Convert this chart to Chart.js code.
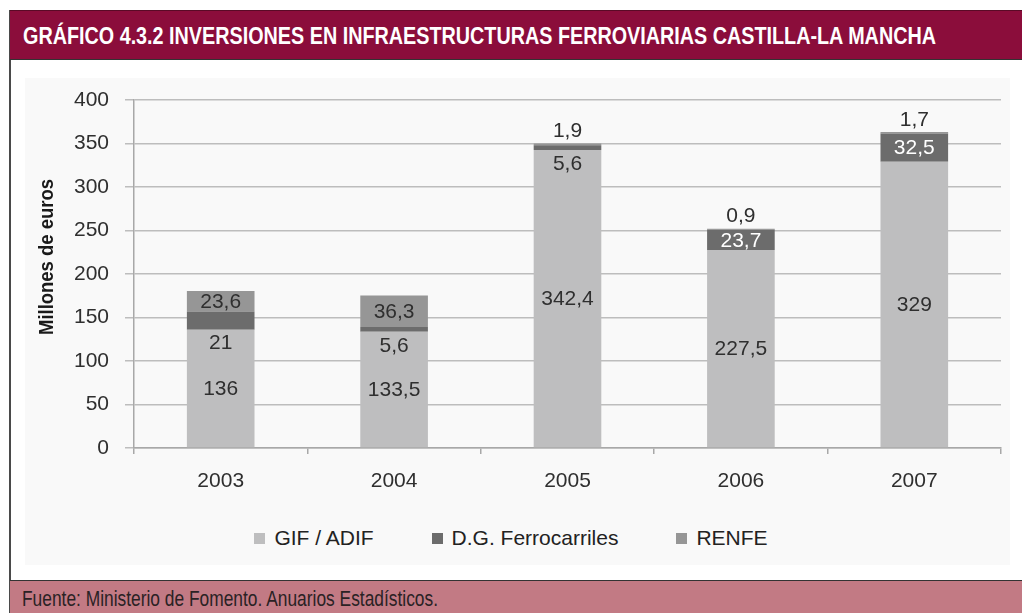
<!DOCTYPE html>
<html lang="es">
<head>
<meta charset="utf-8">
<title>Inversiones en infraestructuras ferroviarias Castilla-La Mancha</title>
<script src="https://cdn.jsdelivr.net/npm/chart.js@4.4.1/dist/chart.umd.min.js"></script>
<style>
  html, body { margin: 0; padding: 0; background: #fff; }
  #page { position: relative; width: 1022px; height: 613px; overflow: hidden; background: #fff; }
  #frame { position: absolute; left: 9px; top: 10px; width: 1020px; height: 610px; border-left: 2px solid #4a4a4a; }
  #title { position: absolute; left: 10px; top: 10px; width: 1020px; height: 50px; background: #8b0d3b;
           border-top: 1px solid #5a0a26; border-bottom: 1px solid #333; color: #fff; font-weight: bold;
           font-family: "Liberation Sans", Arial, sans-serif; font-size: 23px; line-height: 50px;
           padding-left: 13px; box-sizing: border-box; white-space: nowrap; }
  #panel { position: absolute; left: 25px; top: 78px; width: 985px; height: 487px; background: #f9f9f9; }
  #wrap { position: absolute; left: 0; top: 61px; width: 1022px; height: 449px; }
  #legend { position: absolute; left: 0; top: 525px; width: 1022px; height: 26px; display: flex;
            justify-content: center; font-family: "Liberation Sans", Arial, sans-serif; font-size: 21px;
            line-height: 26px; color: #222; }
  #legend .item { display: flex; align-items: center; margin: 0 29px; }
  #legend .box { width: 11px; height: 11px; margin-right: 9px; }
  #footer { position: absolute; left: 10px; top: 580px; width: 1020px; height: 33px; background: #c27a84;
            border-top: 1px solid #333; color: #2a2224; font-family: "Liberation Sans", Arial, sans-serif;
            font-size: 22px; line-height: 36px; padding-left: 12px; box-sizing: border-box; white-space: nowrap; }
  .fit { display: inline-block; transform-origin: 0 50%; }
</style>
</head>
<body>
<div id="page">
  <div id="panel"></div>
  <div id="frame"></div>
  <div id="title"><span class="fit" data-width="913">GRÁFICO 4.3.2 INVERSIONES EN INFRAESTRUCTURAS FERROVIARIAS CASTILLA-LA MANCHA</span></div>
  <div id="wrap"><canvas id="chart"></canvas></div>
  <div id="legend"></div>
  <div id="footer"><span class="fit" data-width="416">Fuente: Ministerio de Fomento. Anuarios Estadísticos.</span></div>
</div>
<script>
// Millones de euros por año
const years = ['2003', '2004', '2005', '2006', '2007'];
const gifAdif = [136, 133.5, 342.4, 227.5, 329];
const dgFerrocarriles = [21, 5.6, 5.6, 23.7, 32.5];
const renfe = [23.6, 36.3, 1.9, 0.9, 1.7];
const seriesNames = ['GIF / ADIF', 'D.G. Ferrocarriles', 'RENFE'];

const Y_MAX = 400;
const Y_STEP = 50;

const TEXT = '#2f2f2f';
const SANS = '"Liberation Sans", Arial, sans-serif';
const NUM_FONT = '21px ' + SANS;

const fmt = v => String(v).replace('.', ',');

// the headings use a condensed face; squeeze the regular one to the same width
document.querySelectorAll('.fit').forEach(el => {
  const w = el.getBoundingClientRect().width;
  el.style.transform = 'scaleX(' + (Number(el.dataset.width) / w) + ')';
});

// value labels: centred in the segment, or pushed outside when it is too thin
const segmentLabels = {
  id: 'segmentLabels',
  afterDatasetsDraw(chart) {
    const ctx = chart.ctx;
    const last = chart.data.datasets.length - 1;
    ctx.save();
    ctx.font = NUM_FONT;
    ctx.textAlign = 'center';
    ctx.textBaseline = 'middle';
    chart.data.datasets.forEach((ds, di) => {
      chart.getDatasetMeta(di).data.forEach((bar, i) => {
        const h = bar.base - bar.y;
        let y = (bar.y + bar.base) / 2;
        let color = ds.labelColor;
        if (h < 19.5) {
          y = di === last ? bar.y - 13 : bar.base + 13;
          color = TEXT;
        }
        ctx.fillStyle = color;
        ctx.fillText(fmt(ds.data[i]), bar.x, y + 1);
      });
    });
    ctx.restore();
  }
};

// rotated axis title, condensed to the narrow look
const yTitle = {
  id: 'yTitle',
  afterDraw(chart) {
    const ctx = chart.ctx;
    const text = 'Millones de euros';
    ctx.save();
    ctx.font = 'bold 21px ' + SANS;
    const k = 156 / ctx.measureText(text).width;
    ctx.translate(47, 196);
    ctx.rotate(-Math.PI / 2);
    ctx.scale(k, 1);
    ctx.fillStyle = '#1a1a1a';
    ctx.textAlign = 'center';
    ctx.textBaseline = 'middle';
    ctx.fillText(text, 0, 0);
    ctx.restore();
  }
};

const chart = new Chart(document.getElementById('chart'), {
  type: 'bar',
  data: {
    labels: years,
    datasets: [
      { label: seriesNames[0], data: gifAdif, backgroundColor: '#bebebf', labelColor: TEXT },
      { label: seriesNames[1], data: dgFerrocarriles, backgroundColor: '#6c6c6c', labelColor: '#ffffff' },
      { label: seriesNames[2], data: renfe, backgroundColor: '#969696', labelColor: TEXT }
    ]
  },
  options: {
    responsive: true,
    maintainAspectRatio: false,
    animation: false,
    categoryPercentage: 1,
    barPercentage: 0.39,
    layout: { padding: { top: 39, right: 21, left: 0, bottom: 0 } },
    plugins: {
      legend: { display: false },
      tooltip: { enabled: false }
    },
    scales: {
      x: {
        stacked: true,
        afterFit: s => { s.height = 62; },
        grid: { drawOnChartArea: false, drawTicks: true, tickLength: 6, color: '#a8a8a8', lineWidth: 1.5 },
        border: { color: '#a8a8a8', width: 1.5 },
        ticks: { color: TEXT, font: { family: SANS, size: 21 }, padding: 15 }
      },
      y: {
        stacked: true,
        min: 0,
        max: Y_MAX,
        afterFit: s => { s.width = 134; },
        grid: { color: '#bdbdbd', lineWidth: 1.5, tickLength: 9 },
        border: { color: '#a8a8a8', width: 1.5 },
        ticks: { stepSize: Y_STEP, color: TEXT, font: { family: SANS, size: 21 }, padding: 16 }
      }
    }
  },
  plugins: [segmentLabels, yTitle]
});

// legend built from the datasets
const legend = document.getElementById('legend');
chart.data.datasets.forEach(ds => {
  const item = document.createElement('div');
  item.className = 'item';
  const box = document.createElement('span');
  box.className = 'box';
  box.style.background = ds.backgroundColor;
  item.appendChild(box);
  item.appendChild(document.createTextNode(ds.label));
  legend.appendChild(item);
});
</script>
</body>
</html>
